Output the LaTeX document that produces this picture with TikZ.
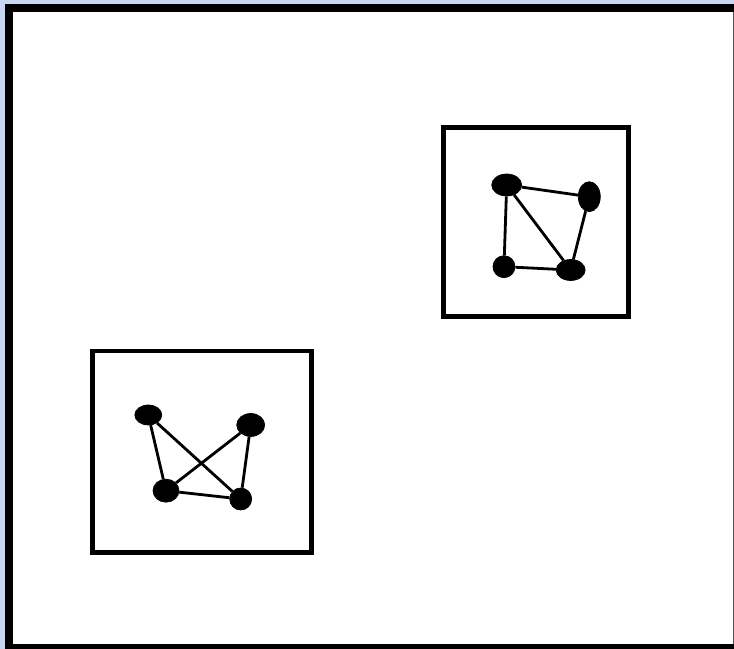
\documentclass[tikz,border=0pt]{standalone}
\usepackage{tikz}
\usetikzlibrary{shapes.geometric}

\definecolor{frameblue}{RGB}{201,214,240}
\definecolor{edgegray}{RGB}{80,80,80}

\begin{document}
\begin{tikzpicture}[
  x=0.02cm, y=-0.02cm,
  vert/.style={ellipse, fill=black, draw=black, inner sep=0pt},
  link/.style={line width=1.6pt},
  group/.style={draw, line width=2.8pt},
]
% frame
\fill[frameblue] (0,0) rectangle (734,649);
\fill[black] (5,4) rectangle (734,649);
\fill[white] (13,12) rectangle (733,644);
\draw[edgegray, line width=0.6pt] (733.5,12) -- (733.5,644);
\useasboundingbox (0,0) rectangle (734,649);

% upper group
\draw[group] (443.5,127.5) rectangle (628.5,316.5);
\node[vert, minimum width=30*0.02cm, minimum height=22*0.02cm] (ua) at (506.7,185) {};
\node[vert, minimum width=22*0.02cm, minimum height=30*0.02cm] (ub) at (589.3,196.7) {};
\node[vert, minimum width=22*0.02cm, minimum height=22*0.02cm] (uc) at (504,266.7) {};
\node[vert, minimum width=29*0.02cm, minimum height=21*0.02cm] (ud) at (570.7,270) {};
\draw[link] (ua) -- (ub);
\draw[link] (ua) -- (uc);
\draw[link] (ua) -- (ud);
\draw[link] (ub) -- (ud);
\draw[link] (uc) -- (ud);

% lower group
\draw[group] (92.5,351) rectangle (311.8,552.5);
\node[vert, minimum width=27*0.02cm, minimum height=20*0.02cm] (la) at (148.3,415) {};
\node[vert, minimum width=28*0.02cm, minimum height=23*0.02cm] (lb) at (250.7,425) {};
\node[vert, minimum width=26*0.02cm, minimum height=23*0.02cm] (lc) at (166,490.7) {};
\node[vert, minimum width=22*0.02cm, minimum height=22*0.02cm] (ld) at (240.7,499) {};
\draw[link] (la) -- (lc);
\draw[link] (la) -- (ld);
\draw[link] (lb) -- (lc);
\draw[link] (lb) -- (ld);
\draw[link] (lc) -- (ld);
\end{tikzpicture}
\end{document}
